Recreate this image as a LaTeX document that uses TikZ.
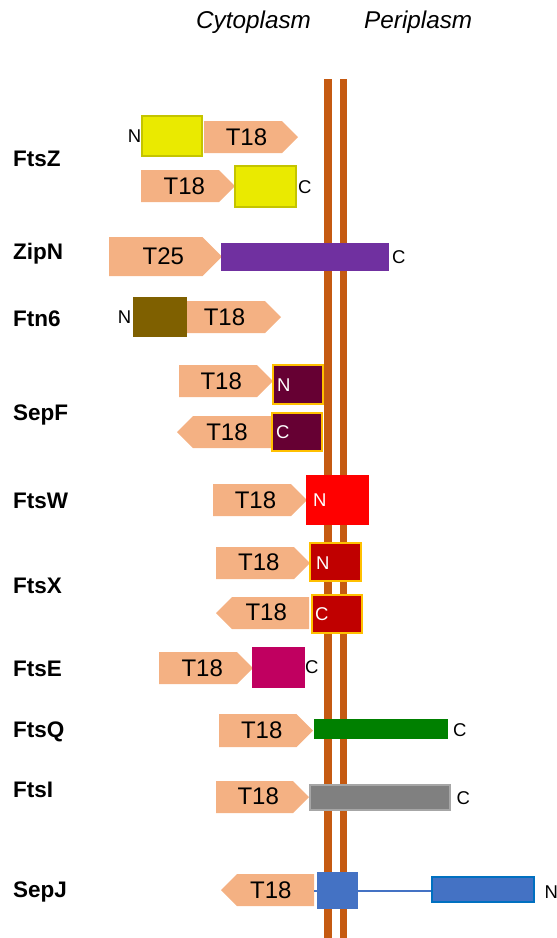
\documentclass[tikz,border=0pt]{standalone}
\usepackage{fontspec}
\setmainfont{Liberation Sans}
\definecolor{tagc}{HTML}{F4B183}
\definecolor{memc}{HTML}{C55A11}
\definecolor{yelc}{HTML}{EAEA00}
\definecolor{yelb}{HTML}{C4C400}
\definecolor{purc}{HTML}{7030A0}
\definecolor{brnc}{HTML}{7F6000}
\definecolor{plumc}{HTML}{660033}
\definecolor{goldc}{HTML}{FFC000}
\definecolor{drdc}{HTML}{C00000}
\definecolor{magc}{HTML}{C00060}
\definecolor{grnc}{HTML}{008000}
\definecolor{gryc}{HTML}{808080}
\definecolor{gryb}{HTML}{A6A6A6}
\definecolor{bluc}{HTML}{4472C4}
\definecolor{blub}{HTML}{0070C0}
\newcommand{\tagR}[4]{\fill[tagc] (#1,#3) -- ({#2-(#4-#3)/2},#3) -- (#2,{(#3+#4)/2}) -- ({#2-(#4-#3)/2},#4) -- (#1,#4) -- cycle;}
\newcommand{\tagL}[4]{\fill[tagc] (#2,#3) -- ({#1+(#4-#3)/2},#3) -- (#1,{(#3+#4)/2}) -- ({#1+(#4-#3)/2},#4) -- (#2,#4) -- cycle;}
\tikzset{
  tagtxt/.style={inner sep=0pt, font=\fontsize{24}{24}\selectfont},
  prot/.style={inner sep=0pt, anchor=base west, font=\fontsize{22.5}{22.5}\selectfont\bfseries},
  term/.style={inner sep=0pt, font=\fontsize{18.5}{18.5}\selectfont},
  wterm/.style={term, text=white, anchor=west},
  hdr/.style={inner sep=0pt, anchor=base west, font=\fontsize{24.3}{24.3}\selectfont\itshape},
  goldbox/.style={draw=goldc, line width=2pt},
}
\begin{document}
\begin{tikzpicture}[x=1pt,y=-1pt]
\useasboundingbox (0,0) rectangle (557,938);
% headers
\node[hdr] (cyto) at (196,28) {Cytoplasm};
\node[hdr] (peri) at (364,28) {Periplasm};
% membrane
\fill[memc] (324,79) rectangle (332,938);
\fill[memc] (340,79) rectangle (347,938);
% protein labels
\node[prot] (lZ) at (13,166.5) {FtsZ};
\node[prot] (lZip) at (13,259) {ZipN};
\node[prot] (lF6) at (13,326) {Ftn6};
\node[prot] (lSF) at (13,420) {SepF};
\node[prot] (lW) at (13,508) {FtsW};
\node[prot] (lX) at (13,593.3) {FtsX};
\node[prot] (lE) at (13,676.7) {FtsE};
\node[prot] (lQ) at (13,737) {FtsQ};
\node[prot] (lI) at (13,797.7) {FtsI};
\node[prot] (lJ) at (13,897.3) {SepJ};
% FtsZ
\tagR{204}{298}{121}{153}
\node[tagtxt] (tZa) at (246.5,137) {T18};
\draw[fill=yelc, draw=yelb, line width=1.5pt] (142,116) rectangle (202,156);
\node[term, anchor=east] (nZa) at (141.5,136) {N};
\tagR{141}{235}{170}{202}
\node[tagtxt] (tZb) at (184.3,186) {T18};
\draw[fill=yelc, draw=yelb, line width=1.5pt] (235,166) rectangle (296,207);
\node[term, anchor=west] (cZb) at (298,187) {C};
% ZipN
\tagR{109}{222}{237}{276}
\node[tagtxt] (tZip) at (163.3,256.5) {T25};
\fill[purc] (221,243) rectangle (389,271);
\node[term, anchor=west] (cZip) at (392,257) {C};
% Ftn6
\fill[brnc] (133,297) rectangle (187,337);
\node[term, anchor=east] (nF6) at (131.5,317) {N};
\tagR{187}{281}{301}{333}
\node[tagtxt] (tF6) at (224.5,317) {T18};
% SepF
\tagR{179}{273}{365}{397}
\node[tagtxt] (tSFa) at (221.2,381) {T18};
\draw[fill=plumc, goldbox] (273,365) rectangle (323,404);
\node[wterm] (nSF) at (277,385) {N};
\tagL{177}{271}{416}{448}
\node[tagtxt] (tSFb) at (227,432) {T18};
\draw[fill=plumc, goldbox] (272,413) rectangle (322,451);
\node[wterm] (cSF) at (276,432) {C};
% FtsW
\tagR{213}{307}{484}{516}
\node[tagtxt] (tW) at (255.5,500) {T18};
\fill[red] (306,475) rectangle (369,525);
\node[wterm] (nW) at (313,500) {N};
% FtsX
\tagR{216}{310}{547}{579}
\node[tagtxt] (tXa) at (258.8,562.7) {T18};
\draw[fill=drdc, goldbox] (310,543) rectangle (361,581);
\node[wterm] (nX) at (316,562.7) {N};
\tagL{216}{309}{597}{629}
\node[tagtxt] (tXb) at (266.2,612.7) {T18};
\draw[fill=drdc, goldbox] (312,595) rectangle (362,633);
\node[wterm] (cX) at (315,613.7) {C};
% FtsE
\tagR{159}{253}{652}{684}
\node[tagtxt] (tE) at (202.2,668.3) {T18};
\fill[magc] (252,647) rectangle (305,688);
\node[term, anchor=west] (cE) at (305,667) {C};
% FtsQ
\tagR{219}{313}{714}{747}
\node[tagtxt] (tQ) at (261.7,730.5) {T18};
\fill[grnc] (314,719) rectangle (448,739);
\node[term, anchor=west] (cQ) at (453,730) {C};
% FtsI
\tagR{216}{309}{781}{813}
\node[tagtxt] (tI) at (258.2,796.7) {T18};
\draw[fill=gryc, draw=gryb, line width=1.5pt] (310,785) rectangle (450,810);
\node[term, anchor=west] (cI) at (456.5,798) {C};
% SepJ
\tagL{221}{314}{874}{906}
\node[tagtxt] (tJ) at (270.8,890) {T18};
\coordinate (jl) at (314,891);
\coordinate (jr) at (431,891);
\draw[bluc, line width=1.2pt] (jl) -- (jr);
\fill[bluc] (317,872) rectangle (358,909);
\draw[fill=bluc, draw=blub, line width=1.5pt] (432,877) rectangle (534,902);
\node[term, anchor=west] (nJ) at (544.5,892.5) {N};
\end{tikzpicture}
\end{document}
